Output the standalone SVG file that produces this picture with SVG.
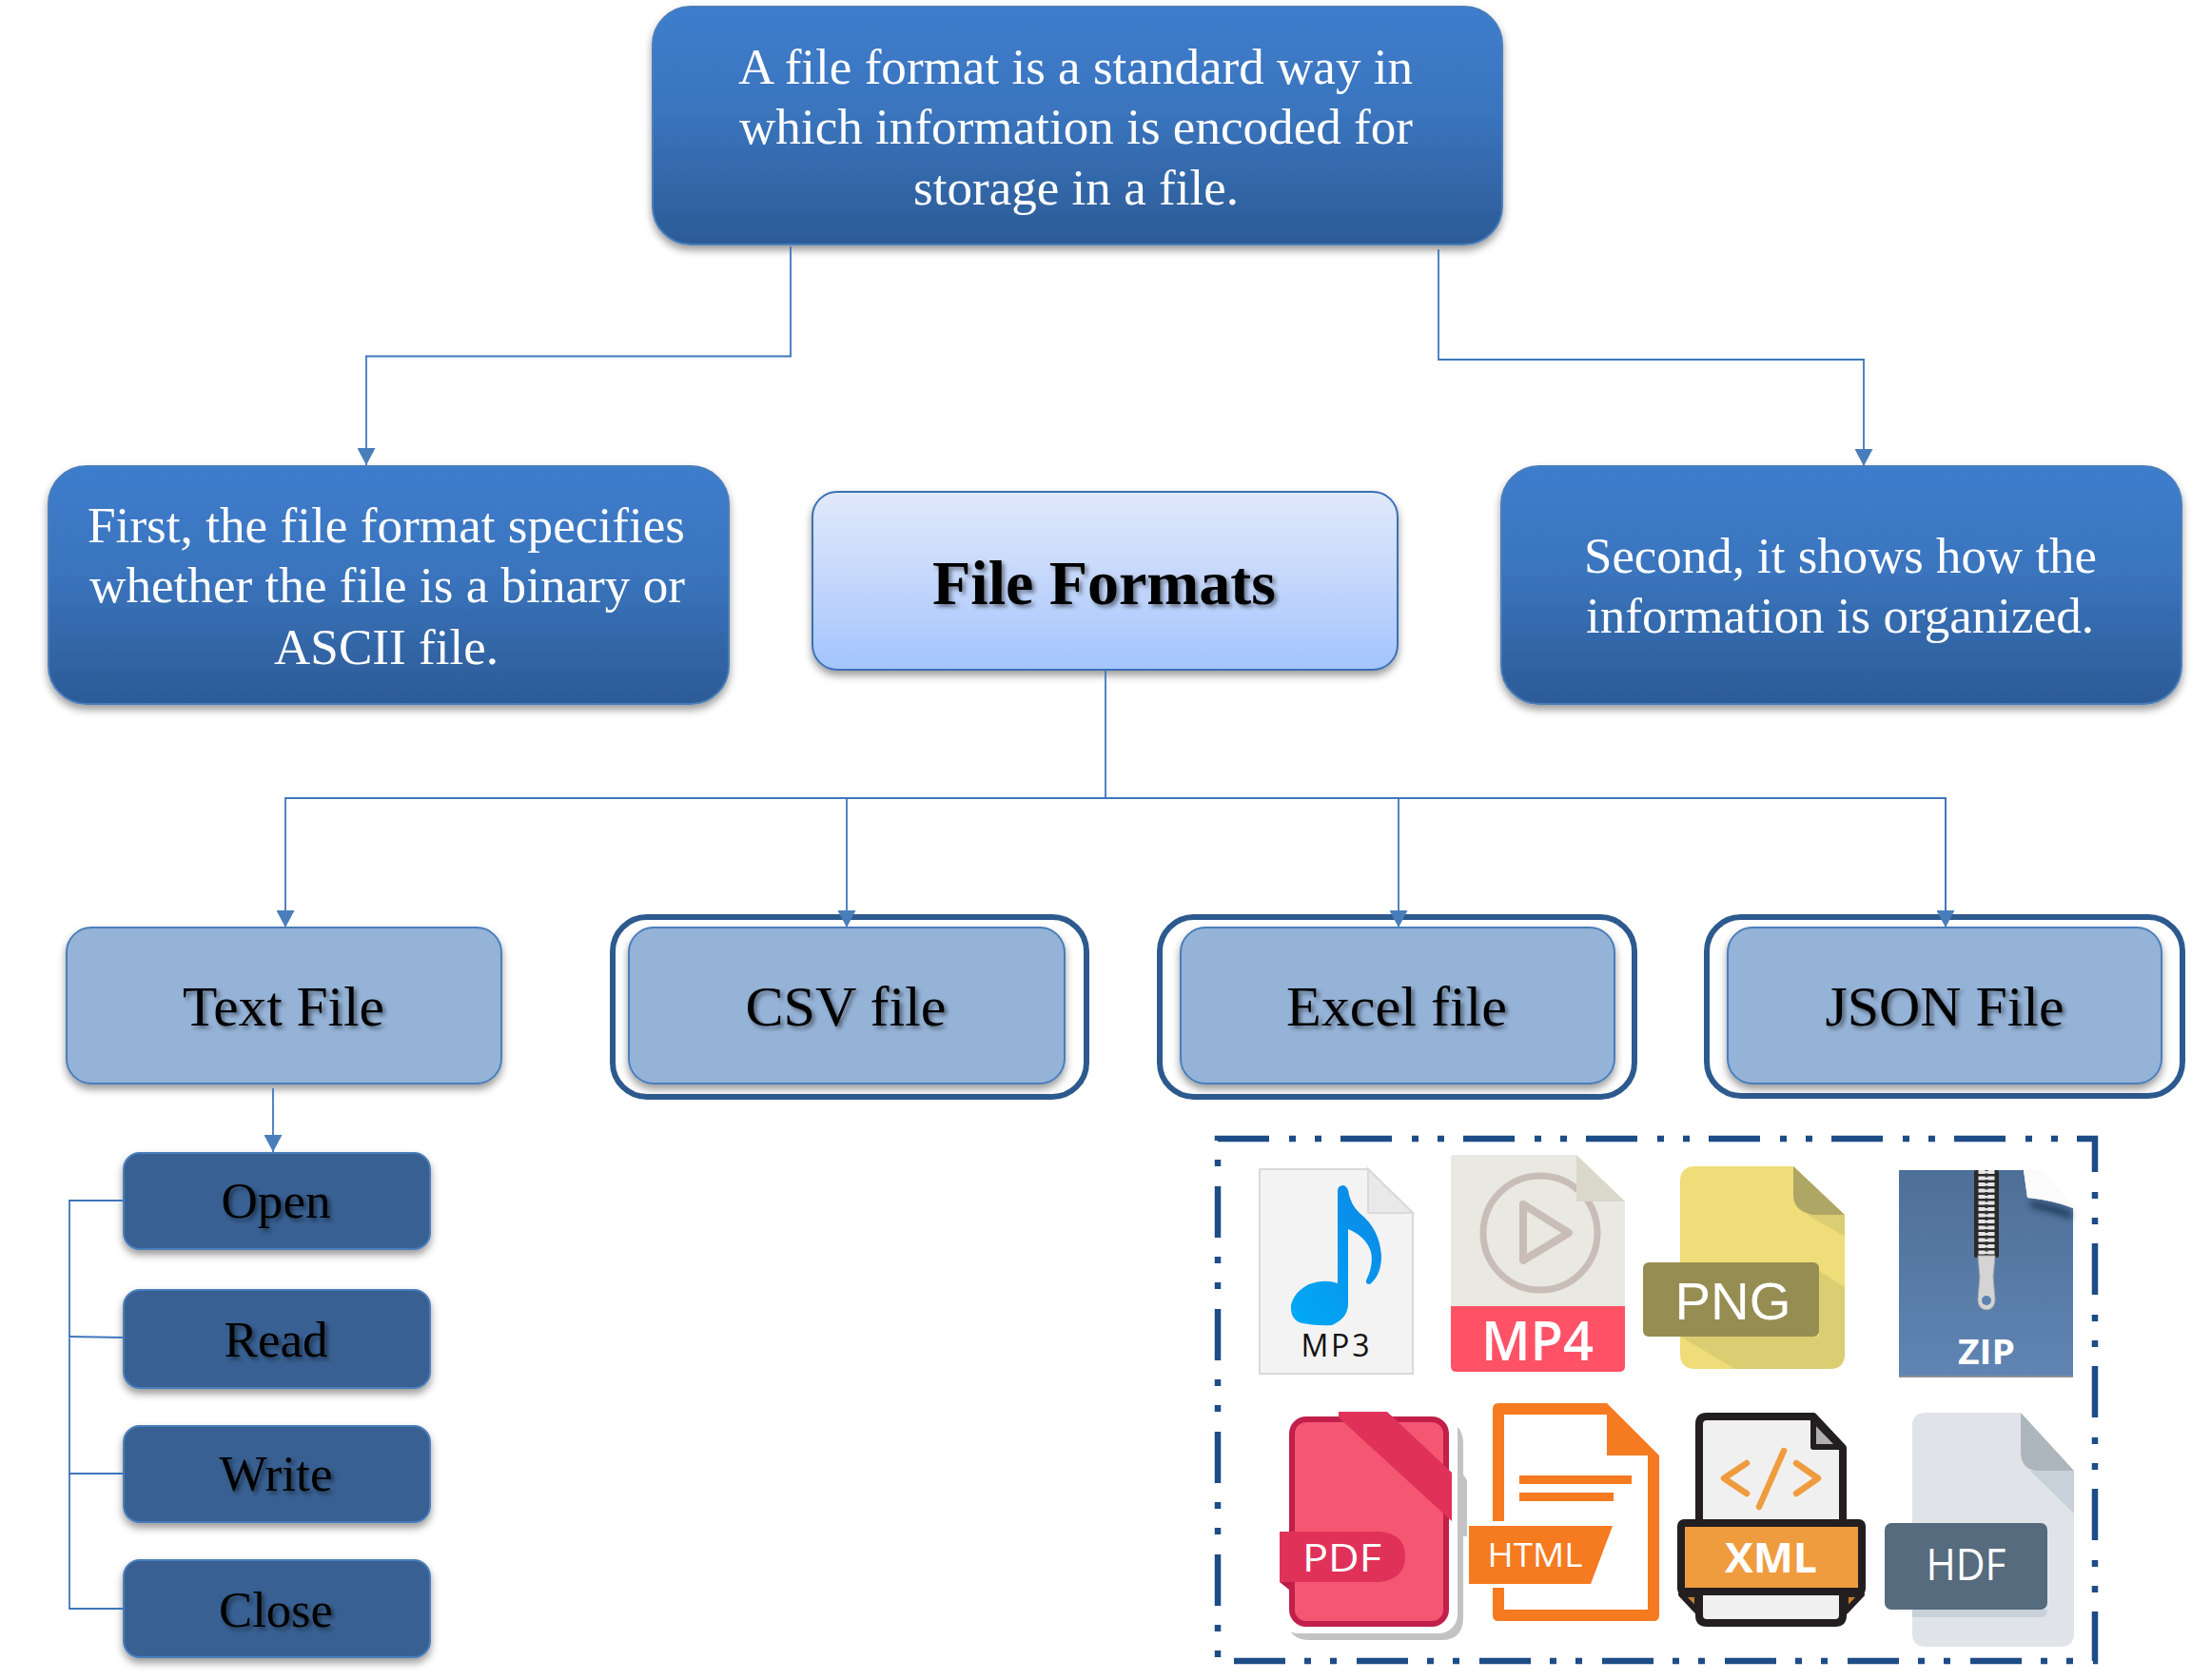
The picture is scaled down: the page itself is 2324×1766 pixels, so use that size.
<svg xmlns="http://www.w3.org/2000/svg" width="2324" height="1766" viewBox="0 0 2324 1766">
<style>
.t{font-family:"Liberation Serif","Times New Roman",serif;text-anchor:middle}
.w{fill:#fff;font-size:53px}
.k{fill:#000;filter:url(#ts)}
.b{stroke:#4a7ebb;stroke-width:2}
.c{fill:none;stroke:#3f76bc;stroke-width:1.8}
.o{fill:none;stroke:#2d5a8e;stroke-width:6}
.s{font-family:"Open Sans","Noto Sans",sans-serif;text-anchor:middle;fill:#fff}
</style>
<defs>
<linearGradient id="g1" x1="0" y1="0" x2="0" y2="1"><stop offset="0" stop-color="#3e7dcd"/><stop offset=".45" stop-color="#3a74bd"/><stop offset="1" stop-color="#2c5b96"/></linearGradient>
<linearGradient id="g2" x1="0" y1="0" x2="0" y2="1"><stop offset="0" stop-color="#e1e9fb"/><stop offset=".5" stop-color="#c4d7fb"/><stop offset="1" stop-color="#a3c4fe"/></linearGradient>
<linearGradient id="g3" x1="0" y1="0" x2="0" y2="1"><stop offset="0" stop-color="#4e6f97"/><stop offset="1" stop-color="#6085b4"/></linearGradient>
<linearGradient id="g4" x1="0" y1="1" x2="1" y2="0"><stop offset="0" stop-color="#02aaf5"/><stop offset="1" stop-color="#0a86e6"/></linearGradient>
<filter id="sd" x="-5%" y="-10%" width="110%" height="125%"><feDropShadow dx="0" dy="5" stdDeviation="4" flood-color="#000" flood-opacity=".4"/></filter>
<filter id="ts" x="-10%" y="-20%" width="120%" height="140%"><feDropShadow dx="3" dy="3" stdDeviation="2" flood-color="#000" flood-opacity=".45"/></filter>
<filter id="bl" x="-20%" y="-50%" width="140%" height="200%"><feGaussianBlur stdDeviation="3"/></filter>
<marker id="ah" markerUnits="userSpaceOnUse" markerWidth="20" markerHeight="19" refX="19" refY="10" orient="auto" viewBox="0 0 19 20"><path d="M0 0L19 10L0 20Z" fill="#4a7ebb"/></marker>
</defs>
<g id="node-top"><rect class="b" x="686" y="7" width="893" height="250" rx="40" fill="url(#g1)" filter="url(#sd)"/>
<text class="t w" x="1130.500" y="88" textLength="709" lengthAdjust="spacingAndGlyphs">A file format is a standard way in</text>
<text class="t w" x="1131" y="151" textLength="708" lengthAdjust="spacingAndGlyphs">which information is encoded for</text>
<text class="t w" x="1131" y="215" textLength="342" lengthAdjust="spacingAndGlyphs">storage in a file.</text></g>
<g id="node-first"><rect class="b" x="51" y="490" width="715" height="250" rx="40" fill="url(#g1)" filter="url(#sd)"/>
<text class="t w" x="406" y="570" textLength="628" lengthAdjust="spacingAndGlyphs">First, the file format specifies</text>
<text class="t w" x="407" y="633" textLength="626" lengthAdjust="spacingAndGlyphs">whether the file is a binary or</text>
<text class="t w" x="406" y="698" textLength="236" lengthAdjust="spacingAndGlyphs">ASCII file.</text></g>
<g id="node-second"><rect class="b" x="1578" y="490" width="715" height="250" rx="40" fill="url(#g1)" filter="url(#sd)"/>
<text class="t w" x="1934.500" y="602" textLength="539" lengthAdjust="spacingAndGlyphs">Second, it shows how the</text>
<text class="t w" x="1934" y="665" textLength="534" lengthAdjust="spacingAndGlyphs">information is organized.</text></g>
<g id="node-formats"><rect x="854" y="517" width="615" height="187" rx="26" fill="url(#g2)" stroke="#3a70b5" stroke-width="2" filter="url(#sd)"/>
<text class="t k" x="1160.500" y="635" font-size="66" font-weight="bold" textLength="361" lengthAdjust="spacingAndGlyphs">File Formats</text></g>
<g id="node-text"><rect class="b" x="70" y="975" width="457" height="164" rx="26" fill="#95b3d7" filter="url(#sd)"/>
<text class="t k" x="298" y="1078" font-size="60" textLength="212" lengthAdjust="spacingAndGlyphs">Text File</text></g>
<g id="node-csv"><rect class="o" x="644" y="964" width="498" height="189" rx="36"/><rect class="b" x="661" y="975" width="458" height="164" rx="26" fill="#95b3d7" filter="url(#sd)"/>
<text class="t k" x="889" y="1078" font-size="60" textLength="211" lengthAdjust="spacingAndGlyphs">CSV file</text></g>
<g id="node-excel"><rect class="o" x="1219" y="964" width="499" height="189" rx="36"/><rect class="b" x="1241" y="975" width="456" height="164" rx="26" fill="#95b3d7" filter="url(#sd)"/>
<text class="t k" x="1468" y="1078" font-size="60" textLength="232" lengthAdjust="spacingAndGlyphs">Excel file</text></g>
<g id="node-json"><rect class="o" x="1794" y="964" width="500" height="188" rx="36"/><rect class="b" x="1816" y="975" width="456" height="164" rx="26" fill="#95b3d7" filter="url(#sd)"/>
<text class="t k" x="2044" y="1078" font-size="60" textLength="251" lengthAdjust="spacingAndGlyphs">JSON File</text></g>
<g id="node-open"><rect class="b" x="130" y="1212" width="322" height="101" rx="17" fill="#376092" filter="url(#sd)"/><text class="t k" x="290" y="1280" font-size="53" textLength="115" lengthAdjust="spacingAndGlyphs">Open</text></g>
<g id="node-read"><rect class="b" x="130" y="1356" width="322" height="103" rx="17" fill="#376092" filter="url(#sd)"/><text class="t k" x="290" y="1426" font-size="53" textLength="109" lengthAdjust="spacingAndGlyphs">Read</text></g>
<g id="node-write"><rect class="b" x="130" y="1499" width="322" height="101" rx="17" fill="#376092" filter="url(#sd)"/><text class="t k" x="290" y="1567" font-size="53" textLength="119" lengthAdjust="spacingAndGlyphs">Write</text></g>
<g id="node-close"><rect class="b" x="130" y="1640" width="322" height="102" rx="17" fill="#376092" filter="url(#sd)"/><text class="t k" x="290" y="1710" font-size="53" textLength="120" lengthAdjust="spacingAndGlyphs">Close</text></g>
<g id="connectors">
<path class="c" d="M831 259V374.500H385V489" marker-end="url(#ah)"/>
<path class="c" d="M1512 262V378H1959V490" marker-end="url(#ah)"/>
<path class="c" d="M1162 704V839"/>
<path class="c" d="M2045 975V839H300V975" marker-end="url(#ah)"/>
<path class="c" d="M890 838V975" marker-end="url(#ah)"/>
<path class="c" d="M1470 838V975" marker-end="url(#ah)"/>
<path class="c" d="M2045 838V975" marker-end="url(#ah)"/>
<path class="c" d="M287 1144V1211" marker-end="url(#ah)"/>
<path class="c" d="M132 1262H73V1691H130M72 1405L130 1406M72 1549H130"/>
</g>
<g id="icon-frame"><path d="M1280 1197H2202V1746H1280Z" fill="none" stroke="#1d4c87" stroke-width="6.500" stroke-dasharray="54 21 7 20 7 20"/></g>
<g id="icon-mp3">
<path d="M1324 1229H1438L1485 1275V1444H1324Z" fill="#f3f3f3" stroke="#d9d9d9" stroke-width="2"/>
<path d="M1438 1229V1275H1485Z" fill="#e9e9e9" stroke="#d9d9d9" stroke-width="2"/>
<path d="M1406 1252Q1406 1246 1412 1246Q1417 1247 1418 1256Q1421 1268 1430 1276Q1450 1292 1452 1320Q1452 1340 1440 1350Q1435 1350 1436 1346Q1444 1330 1441 1316Q1436 1300 1417 1292V1372Q1416 1386 1400 1393Q1385 1394 1369 1391Q1356 1388 1357 1372Q1360 1358 1376 1350Q1392 1344 1406 1349Z" fill="url(#g4)"/>
<text x="1403.500" y="1426" font-family="Open Sans,Noto Sans,sans-serif" font-size="32" font-weight="500" text-anchor="middle" textLength="72" fill="#111">MP3</text>
</g>
<g id="icon-mp4">
<path d="M1529 1214H1657L1708 1263V1373H1525V1218Q1525 1214 1529 1214Z" fill="#e9e8e1"/>
<circle cx="1619" cy="1296" r="60" fill="none" stroke="#c9bdb8" stroke-width="7"/>
<path d="M1601 1266L1649 1296L1601 1325Z" fill="none" stroke="#c9bdb8" stroke-width="8" stroke-linejoin="round"/>
<path d="M1657 1214L1708 1263H1657Z" fill="#d9d8cb"/>
<path d="M1525 1373H1708V1436Q1708 1442 1702 1442H1531Q1525 1442 1525 1436Z" fill="#ff5267"/>
<text class="s" x="1616" y="1430" font-size="57" font-weight="600" textLength="118" lengthAdjust="spacingAndGlyphs">MP4</text>
</g>
<g id="icon-png">
<path d="M1782 1226H1885L1939 1277V1423Q1939 1439 1923 1439H1782Q1766 1439 1766 1423V1242Q1766 1226 1782 1226Z" fill="#eedd78"/>
<path d="M1900 1277H1939V1300Z" fill="#dbcd72"/>
<path d="M1912 1336L1939 1353V1423Q1939 1439 1923 1439H1824L1766 1405H1912Z" fill="#dbcd72"/>
<path d="M1885 1226L1939 1277H1905Q1885 1273 1885 1256Z" fill="#aea664"/>
<rect x="1727" y="1327" width="185" height="78" rx="6" fill="#968d52"/>
<text x="1821.500" y="1387" font-family="Liberation Sans,Arial,sans-serif" font-size="56" text-anchor="middle" textLength="122" lengthAdjust="spacingAndGlyphs" fill="#fff">PNG</text>
</g>
<g id="icon-zip">
<path d="M1996 1230H2127L2131 1259Q2160 1262 2179 1270V1448H1996Z" fill="url(#g3)"/>
<path d="M1996 1447H2179" stroke="#8a8f96" stroke-width="2"/>
<path d="M2133 1262Q2160 1265 2177 1274V1282Q2150 1272 2136 1270Z" fill="#17304f" opacity=".75" filter="url(#bl)"/>
<path d="M2127 1230H2145Q2165 1248 2179 1270Q2160 1262 2131 1259Z" fill="#fbfbfb"/>
<rect x="2075" y="1230" width="26" height="92" rx="2" fill="#2a2a2a"/>
<path d="M2088 1230V1322" stroke="#e4e4e4" stroke-width="17" stroke-dasharray="4 2.500"/>
<path d="M2088 1230V1322" stroke="#333" stroke-width="3" stroke-dasharray="4 2.500" stroke-dashoffset="3"/>
<path d="M2079 1320H2097L2095 1342L2097 1366Q2097 1376 2088 1377Q2079 1376 2079 1366L2081 1342Z" fill="#d4d4d4" stroke="#aaa"/>
<circle cx="2088" cy="1367" r="5" fill="#5d81b0"/>
<text x="2088" y="1434" font-family="Open Sans,Noto Sans,sans-serif" font-weight="700" font-size="36" text-anchor="middle" textLength="60" lengthAdjust="spacingAndGlyphs" fill="#fff">ZIP</text>
</g>
<g id="icon-pdf">
<path d="M1376 1494H1515Q1538 1494 1538 1518V1550L1542 1556V1615H1538V1700Q1538 1724 1515 1724H1376Q1360 1724 1355 1712Z" fill="#c3c3c3"/>
<rect x="1345" y="1482" width="187" height="235" rx="20" fill="#fff"/>
<rect x="1358" y="1492" width="162" height="215" rx="15" fill="#f55672" stroke="#c21f4b" stroke-width="6"/>
<path d="M1407 1484H1458L1526 1548V1599L1407 1490Z" fill="#e03259"/>
<path d="M1345 1663L1355 1671V1663Z" fill="#b81c45"/>
<path d="M1345 1610H1450Q1477 1612 1477 1636Q1477 1660 1450 1663H1345Z" fill="#e03259"/>
<text class="s" x="1410.500" y="1652" font-size="41" textLength="83" lengthAdjust="spacingAndGlyphs" font-weight="500">PDF</text>
</g>
<g id="icon-html">
<path d="M1575 1475H1689L1744 1530V1698Q1744 1704 1738 1704H1575Q1569 1704 1569 1698V1481Q1569 1475 1575 1475Z" fill="#f57a20"/>
<path d="M1581 1487H1689V1530H1732V1692H1581Z" fill="#fff"/>
<rect x="1597" y="1551" width="118" height="9" fill="#f57a20"/>
<rect x="1597" y="1569" width="99" height="9" fill="#f57a20"/>
<rect x="1560" y="1599" width="25" height="70" fill="#fff"/>
<path d="M1544 1604H1695L1672 1665H1544Z" fill="#f57a20"/>
<text class="s" x="1613.500" y="1647" font-size="35" font-weight="500" textLength="100" lengthAdjust="spacingAndGlyphs">HTML</text>
</g>
<g id="icon-xml">
<path d="M1794 1489H1906L1937 1522V1698Q1937 1706 1929 1706H1794Q1786 1706 1786 1698V1497Q1786 1489 1794 1489Z" fill="#f0f0f0" stroke="#231f20" stroke-width="8" stroke-linejoin="round"/>
<path d="M1906 1492L1934 1521H1906Z" fill="#b0b0b0" stroke="#231f20" stroke-width="6" stroke-linejoin="round"/>
<path d="M1767 1676L1784 1694V1676ZM1957 1676L1940 1694V1676Z" fill="#c5812d" stroke="#231f20" stroke-width="6" stroke-linejoin="round"/>
<rect x="1767" y="1601" width="190" height="72" rx="3" fill="#ef9c3f" stroke="#231f20" stroke-width="8"/>
<path d="M1836 1538L1812 1554L1836 1570M1888 1538L1911 1554L1888 1570M1875 1525L1849 1584" fill="none" stroke="#ef9c3f" stroke-width="6.500" stroke-linecap="round" stroke-linejoin="round"/>
<text class="s" x="1861.500" y="1653" font-size="43" font-weight="700" textLength="97" lengthAdjust="spacingAndGlyphs">XML</text>
</g>
<g id="icon-hdf">
<path d="M2024 1485H2124L2180 1546V1717Q2180 1731 2166 1731H2024Q2010 1731 2010 1717V1499Q2010 1485 2024 1485Z" fill="#e0e4e8"/>
<path d="M2134 1546H2180V1591Z" fill="#c8d0da"/>
<path d="M2124 1485L2180 1546H2140Q2124 1544 2124 1526Z" fill="#aeb6bd"/>
<path d="M2010 1692H2152V1693Q2152 1700 2145 1700H2010Z" fill="#c8d0da"/>
<rect x="1981" y="1601" width="171" height="91" rx="7" fill="#566b7d"/>
<text class="s" x="2066.500" y="1661" font-size="45" textLength="84" lengthAdjust="spacingAndGlyphs" font-weight="500">HDF</text>
</g>
</svg>
